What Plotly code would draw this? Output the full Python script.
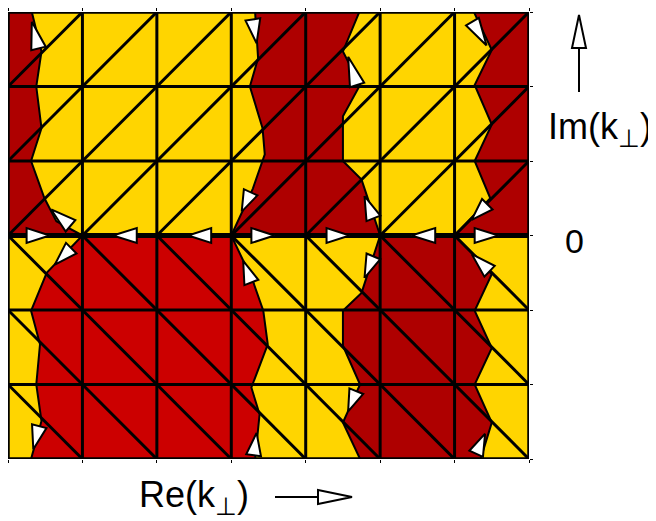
import plotly.graph_objects as go
import math

# ---- data (grid units: Re from 0..7, Im from -3..3) ----
n_cols = 7
n_rows_half = 3

# boundary curves of coloured domains (x list, y list)
ul_bx = [1, 0.65, 0.49, 0.31, 0.45, 0.38, 0.45, 0.32]
ul_by = [0, 0.19, 0.50, 1.00, 1.44, 2.00, 2.47, 3.00]

um_left_bx = [3, 3.29, 3.45, 3.42, 3.25, 3.36, 3.32]
um_left_by = [0, 0.63, 1.09, 1.44, 2.00, 2.38, 3.00]
um_right_bx = [4.72, 4.50, 4.73, 4.50, 4.50, 4.75, 5]
um_right_by = [3.00, 2.47, 2.02, 1.60, 1.00, 0.75, 0]

ur_bx = [6.26, 6.50, 6.27, 6.50, 6.27, 6.48, 6]
ur_by = [3.00, 2.49, 2.02, 1.49, 1.00, 0.50, 0]

ll_left_bx = [1, 0.52, 0.31, 0.43, 0.38, 0.45, 0.31]
ll_left_by = [0, -0.50, -1.01, -1.46, -2.00, -2.49, -3.00]
ll_right_bx = [3, 3.29, 3.43, 3.49, 3.27, 3.38, 3.32]
ll_right_by = [0, -0.61, -1.01, -1.46, -2.04, -2.40, -3.00]

lr_left_bx = [5, 4.75, 4.50, 4.50, 4.73, 4.50, 4.73]
lr_left_by = [0, -0.77, -1.01, -1.48, -2.00, -2.51, -3.00]
lr_right_bx = [6, 6.25, 6.50, 6.27, 6.50, 6.27, 6.50, 6.35]
lr_right_by = [0, -0.25, -0.52, -1.01, -1.51, -2.00, -2.51, -3.00]

# arrow heads: tip and base centre
arrow_tip_x = [0.32, 3.34, 4.57, 6.43, 0.58, 3.14, 4.79, 6.23,
               0.56, 1.41, 2.42, 3.58, 4.59, 5.42, 6.59,
               0.63, 3.16, 0.34, 3.34, 4.79, 6.23, 4.57, 6.41]
arrow_tip_y = [2.87, 2.58, 2.40, 2.55, 0.35, 0.32, 0.53, 0.21,
               0, 0, 0, 0, 0, 0, 0,
               -0.39, -0.34, -2.87, -2.65, -0.57, -0.25, -2.36, -2.66]
arrow_base_x = [0.41, 3.29, 4.69, 6.24, 0.84, 3.26, 4.91, 6.44,
                0.25, 1.73, 2.73, 3.27, 4.28, 5.74, 6.27,
                0.85, 3.27, 0.42, 3.30, 4.91, 6.47, 4.68, 6.29]
arrow_base_y = [2.51, 2.90, 2.02, 2.87, 0.13, 0.58, 0.23, 0.42,
                0, 0, 0, 0, 0, 0, 0,
                -0.17, -0.63, -2.56, -2.95, -0.28, -0.48, -2.09, -2.93]

YELLOW = "#FFD500"
DARK_RED = "#AE0000"
RED = "#CC0000"

fig = go.Figure()

def poly(xs, ys, color):
    fig.add_trace(go.Scatter(x=xs + [xs[0]], y=ys + [ys[0]], mode="lines",
                             fill="toself", fillcolor=color,
                             line=dict(color="black", width=2),
                             hoverinfo="skip", showlegend=False))

# background yellow
poly([0, 7, 7, 0], [-3, -3, 3, 3], YELLOW)

# upper-left dark red
poly([0] + ul_bx + [0], [0] + ul_by + [3], DARK_RED)
# upper-middle dark red
poly(um_left_bx + um_right_bx, um_left_by + um_right_by, DARK_RED)
# upper-right dark red
poly([7, 7] + ur_bx, [0, 3] + ur_by, DARK_RED)
# lower-left red
poly(ll_left_bx + ll_right_bx[::-1], ll_left_by + ll_right_by[::-1], RED)
# lower-right dark red
poly(lr_left_bx + lr_right_bx[::-1], lr_left_by + lr_right_by[::-1], DARK_RED)

# grid lines
gx, gy = [], []
for i in range(1, n_cols):
    gx += [i, i, None]; gy += [-3, 3, None]
for j in [-2, -1, 1, 2]:
    gx += [0, 7, None]; gy += [j, j, None]
fig.add_trace(go.Scatter(x=gx, y=gy, mode="lines", line=dict(color="black", width=3),
                         hoverinfo="skip", showlegend=False))

# diagonals
dx, dy = [], []
for k in range(-2, 7):
    # upper: y = x - k
    x0 = max(0, k); y0 = x0 - k
    x1 = min(7, k + 3); y1 = x1 - k
    dx += [x0, x1, None]; dy += [y0, y1, None]
    # lower: y = k - x
    x0 = max(0, k); y0 = k - x0
    x1 = min(7, k + 3); y1 = k - x1
    dx += [x0, x1, None]; dy += [y0, y1, None]
fig.add_trace(go.Scatter(x=dx, y=dy, mode="lines", line=dict(color="black", width=3),
                         hoverinfo="skip", showlegend=False))

# zero line
fig.add_trace(go.Scatter(x=[0, 7], y=[0, 0], mode="lines", line=dict(color="black", width=5),
                         hoverinfo="skip", showlegend=False))

# arrows
ax, ay = [], []
hw = 0.1
for tx, ty, bx, by in zip(arrow_tip_x, arrow_tip_y, arrow_base_x, arrow_base_y):
    vx, vy = tx - bx, ty - by
    L = math.hypot(vx, vy)
    px_, py_ = -vy / L * hw, vx / L * hw
    ax += [tx, bx + px_, bx - px_, tx, None]
    ay += [ty, by + py_, by - py_, ty, None]
fig.add_trace(go.Scatter(x=ax, y=ay, mode="lines", fill="toself", fillcolor="white",
                         line=dict(color="black", width=2),
                         hoverinfo="skip", showlegend=False))

# frame
fig.add_trace(go.Scatter(x=[0, 7, 7, 0, 0], y=[-3, -3, 3, 3, -3], mode="lines",
                         line=dict(color="black", width=3.5),
                         hoverinfo="skip", showlegend=False))

# page has an 8px body margin: figure origin sits at page (8, 8)
OFF = 8
W, H = 648, 513
L_M, R_M, T_M, B_M = 0, 127, 4, 62
PW = W - L_M - R_M
PH = H - T_M - B_M

def pp(px, py):
    fx, fy = px - OFF, py - OFF
    return (fx - L_M) / PW, (H - B_M - fy) / PH

font = dict(family="Liberation Sans, Arial, sans-serif", size=36, color="black")

annotations = []
x_, y_ = pp(600, 129)
annotations.append(dict(x=x_, y=y_, xref="paper", yref="paper", text="Im(k<sub>⊥</sub>)",
                        showarrow=False, font=font, xanchor="center", yanchor="middle"))
x_, y_ = pp(574, 241)
annotations.append(dict(x=x_, y=y_, xref="paper", yref="paper", text="0",
                        showarrow=False, font=dict(font, size=34), xanchor="center", yanchor="middle"))
x_, y_ = pp(194, 497)
annotations.append(dict(x=x_, y=y_, xref="paper", yref="paper", text="Re(k<sub>⊥</sub>)",
                        showarrow=False, font=font, xanchor="center", yanchor="middle"))

shapes = []
# up arrow (Im)
a0 = pp(579, 92); a1 = pp(579, 48)
shapes.append(dict(type="line", xref="paper", yref="paper", x0=a0[0], y0=a0[1], x1=a1[0], y1=a1[1],
                   line=dict(color="black", width=2)))
p1 = pp(572, 48); p2 = pp(586, 48); p3 = pp(579, 15)
shapes.append(dict(type="path", xref="paper", yref="paper",
                   path=f"M {p1[0]} {p1[1]} L {p2[0]} {p2[1]} L {p3[0]} {p3[1]} Z",
                   fillcolor="white", line=dict(color="black", width=2)))
# right arrow (Re)
b0 = pp(275, 497); b1 = pp(318, 497)
shapes.append(dict(type="line", xref="paper", yref="paper", x0=b0[0], y0=b0[1], x1=b1[0], y1=b1[1],
                   line=dict(color="black", width=2)))
q1 = pp(318, 490); q2 = pp(318, 504); q3 = pp(352, 497)
shapes.append(dict(type="path", xref="paper", yref="paper",
                   path=f"M {q1[0]} {q1[1]} L {q2[0]} {q2[1]} L {q3[0]} {q3[1]} Z",
                   fillcolor="white", line=dict(color="black", width=2)))

fig.update_layout(
    width=W, height=H,
    margin=dict(l=L_M, r=R_M, t=T_M, b=B_M),
    paper_bgcolor="white", plot_bgcolor="white",
    xaxis=dict(range=[0, 7], showgrid=False, zeroline=False, showticklabels=False,
               tickvals=list(range(0, 8)), ticks="outside", ticklen=3, tickcolor="black",
               showline=False, mirror="ticks", fixedrange=True, automargin=False),
    yaxis=dict(range=[-3, 3], showgrid=False, zeroline=False, showticklabels=False,
               tickvals=list(range(-3, 4)), ticks="outside", ticklen=3, tickcolor="black",
               showline=False, mirror="ticks", fixedrange=True, automargin=False),
    annotations=annotations, shapes=shapes, showlegend=False,
)

fig.write_html("out.html")
